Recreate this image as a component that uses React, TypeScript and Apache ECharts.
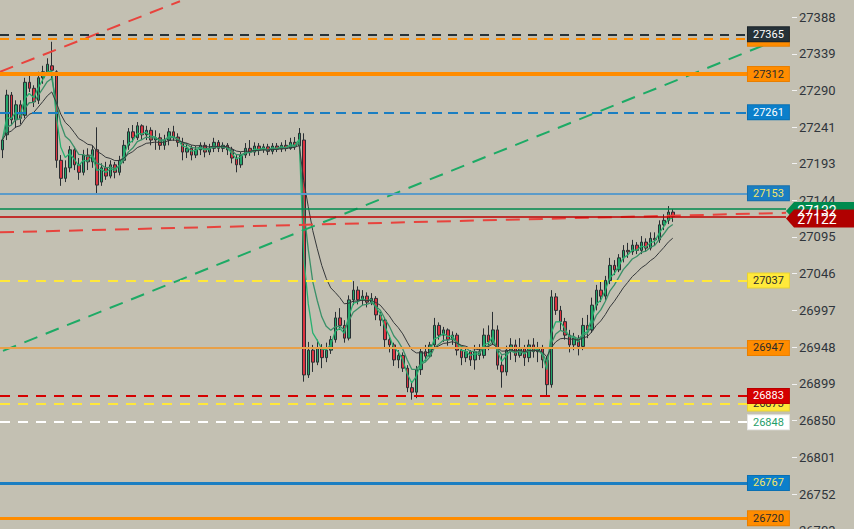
import { useEffect, useRef } from "react";
import * as echarts from "echarts";

// OHLC per bar: [open, close, low, high]
const candles: number[][] = [
  [27211, 27224, 27200, 27227], [27231, 27284, 27224, 27291], [27284, 27251, 27244, 27288], [27251, 27271, 27240, 27277],
  [27271, 27253, 27245, 27277], [27257, 27301, 27253, 27307], [27301, 27293, 27288, 27312], [27293, 27275, 27268, 27297],
  [27277, 27307, 27272, 27315], [27307, 27315, 27299, 27323], [27315, 27325, 27310, 27333], [27323, 27317, 27304, 27355],
  [27315, 27197, 27187, 27317], [27197, 27173, 27163, 27204], [27173, 27187, 27168, 27197], [27187, 27211, 27181, 27216],
  [27211, 27191, 27184, 27215], [27191, 27181, 27171, 27200], [27181, 27204, 27177, 27211], [27204, 27195, 27184, 27213],
  [27195, 27211, 27187, 27217], [27211, 27164, 27153, 27241], [27168, 27187, 27163, 27193], [27187, 27176, 27171, 27195],
  [27176, 27191, 27173, 27197], [27191, 27181, 27173, 27195], [27181, 27197, 27177, 27203], [27197, 27217, 27193, 27224],
  [27217, 27235, 27211, 27240], [27235, 27227, 27221, 27244], [27227, 27243, 27224, 27248], [27243, 27231, 27224, 27245],
  [27231, 27237, 27224, 27243], [27237, 27224, 27217, 27241], [27224, 27227, 27211, 27237], [27227, 27217, 27211, 27233],
  [27217, 27224, 27211, 27231], [27224, 27235, 27217, 27240], [27235, 27228, 27223, 27243], [27228, 27221, 27215, 27233],
  [27221, 27208, 27197, 27227], [27208, 27213, 27200, 27220], [27213, 27204, 27197, 27217], [27204, 27211, 27200, 27216],
  [27211, 27217, 27204, 27221], [27217, 27208, 27201, 27221], [27208, 27213, 27204, 27219], [27213, 27221, 27208, 27227],
  [27221, 27213, 27208, 27224], [27213, 27217, 27208, 27221], [27217, 27211, 27204, 27220], [27211, 27200, 27193, 27215],
  [27200, 27191, 27181, 27204], [27191, 27204, 27187, 27208], [27204, 27213, 27200, 27220], [27213, 27208, 27203, 27224],
  [27208, 27216, 27203, 27221], [27216, 27211, 27204, 27220], [27211, 27215, 27207, 27219], [27215, 27209, 27204, 27219],
  [27209, 27216, 27205, 27220], [27216, 27212, 27208, 27220], [27212, 27217, 27208, 27221], [27217, 27213, 27209, 27224],
  [27213, 27221, 27211, 27227], [27221, 27216, 27211, 27228], [27216, 27233, 27213, 27240], [27224, 26911, 26902, 27233],
  [26911, 26944, 26907, 26955], [26944, 26928, 26915, 26951], [26928, 26947, 26924, 26958], [26947, 26934, 26920, 26952],
  [26934, 26944, 26928, 26954], [26944, 26958, 26939, 26963], [26958, 26987, 26954, 26995], [26987, 26977, 26971, 27000],
  [26977, 26960, 26954, 26984], [26960, 27011, 26957, 27017], [27011, 27024, 27004, 27036], [27024, 27011, 27005, 27029],
  [27011, 27016, 27004, 27024], [27016, 27008, 27001, 27021], [27008, 27013, 27004, 27020], [27013, 26991, 26984, 27016],
  [26991, 26984, 26976, 26995], [26984, 26958, 26947, 26987], [26958, 26951, 26941, 26964], [26951, 26931, 26923, 26954],
  [26931, 26937, 26920, 26944], [26937, 26920, 26915, 26941], [26920, 26894, 26888, 26924], [26894, 26888, 26878, 26902],
  [26888, 26918, 26880, 26923], [26918, 26942, 26911, 26947], [26942, 26936, 26928, 26951], [26936, 26951, 26934, 26955],
  [26951, 26977, 26947, 26987], [26977, 26964, 26958, 26981], [26964, 26971, 26955, 26975], [26971, 26958, 26950, 26973],
  [26958, 26964, 26951, 26969], [26964, 26944, 26937, 26967], [26944, 26934, 26924, 26950], [26934, 26942, 26928, 26947],
  [26942, 26931, 26923, 26944], [26931, 26942, 26918, 26951], [26942, 26937, 26931, 26952], [26937, 26964, 26933, 26973],
  [26964, 26955, 26944, 26977], [26955, 26971, 26951, 26995], [26971, 26924, 26918, 26977], [26924, 26915, 26894, 26937],
  [26915, 26944, 26910, 26950], [26944, 26951, 26931, 26960], [26951, 26937, 26928, 26958], [26937, 26947, 26934, 26960],
  [26947, 26934, 26923, 26951], [26934, 26951, 26928, 26958], [26951, 26942, 26934, 26960], [26942, 26947, 26928, 26955],
  [26947, 26931, 26920, 26951], [26931, 26898, 26884, 26936], [26898, 27015, 26894, 27024], [27015, 26997, 26991, 27020],
  [26997, 26982, 26971, 27003], [26982, 26964, 26958, 26987], [26964, 26951, 26941, 26971], [26951, 26960, 26944, 26967],
  [26960, 26949, 26937, 26964], [26949, 26977, 26944, 26987], [26977, 26971, 26960, 26991], [26971, 27004, 26967, 27014],
  [27004, 27024, 26997, 27031], [27024, 27016, 27008, 27035], [27016, 27037, 27011, 27043], [27037, 27057, 27032, 27067],
  [27057, 27051, 27044, 27064], [27051, 27067, 27048, 27072], [27067, 27077, 27061, 27084], [27077, 27075, 27067, 27087],
  [27075, 27084, 27071, 27091], [27084, 27077, 27072, 27088], [27077, 27088, 27072, 27096], [27088, 27080, 27075, 27093],
  [27080, 27093, 27077, 27101], [27093, 27091, 27083, 27101], [27091, 27111, 27087, 27117], [27111, 27117, 27104, 27125],
  [27117, 27128, 27112, 27136], [27128, 27122, 27115, 27132],
];

const yTicks = [26703, 26752, 26801, 26850, 26899, 26948, 26997, 27046, 27095, 27144, 27193, 27241, 27290, 27339, 27388];

// horizontal price levels (drawing order: later ones on top)
const levels = [27359, 27365, 27312, 27261, 27153, 27037, 26947, 26873, 26883, 26848, 26767, 26720];
// live quotes (ask / bid)
const quotes = [27132, 27122];
// trend lines: [barIndex, price] endpoints
const trendUpperRed = [[-0.5, 27315], [39.5, 27409]];
const trendLowerRed = [[-0.5, 27101], [174.17, 27127]];
const trendGreen = [[0.17, 26943], [169.5, 27351]];

const BG = "#c3c0b2";
const X_MIN = -0.5;
const X_MAX = 175.5;
const LEVEL_END = 165.72;
const QUOTE_END = 174.17;

const levelStyles = [
  { line: "#ff8c00", type: [9, 7], width: 2, bg: "#ff8c00", fg: "#2b2b2b", bd: "#e97f00" },
  { line: "#263238", type: [9, 7], width: 2, bg: "#263238", fg: "#ffffff", bd: "#1b2328" },
  { line: "#ff8c00", type: "solid", width: 4, bg: "#ff8c00", fg: "#2b2b2b", bd: "#e97f00" },
  { line: "#1a7ec2", type: [10, 6], width: 2, bg: "#0b7fcb", fg: "#ffffff", bd: "#0a70b3" },
  { line: "#5b9bc9", type: "solid", width: 2, bg: "#1a7ec2", fg: "#f2e66a", bd: "#176fab" },
  { line: "#ffe83a", type: [10, 8], width: 2, bg: "#ffe93b", fg: "#2b2b2b", bd: "#e8d232" },
  { line: "#e8a048", type: "solid", width: 2, bg: "#ff8c00", fg: "#2b2b2b", bd: "#e97f00" },
  { line: "#ffe83a", type: [10, 8], width: 2, bg: "#ffe93b", fg: "#2b2b2b", bd: "#e8d232" },
  { line: "#d50000", type: [10, 8], width: 2, bg: "#d50000", fg: "#ffffff", bd: "#b80000" },
  { line: "#ffffff", type: [10, 8], width: 2, bg: "#ffffff", fg: "#1f9e6a", bd: "#e6e6e6" },
  { line: "#1a7ec2", type: "solid", width: 3, bg: "#0b7fcb", fg: "#f2e66a", bd: "#0a70b3" },
  { line: "#ff8c00", type: "solid", width: 3, bg: "#ff8c00", fg: "#2b2b2b", bd: "#e97f00" },
];
const quoteStyles = [
  { line: "#008a4e", bg: "#008a4e" },
  { line: "#c00000", bg: "#b00000" },
];

function ema(period: number): number[][] {
  const k = 2 / (period + 1);
  let prev = candles[0][1];
  return candles.map((c, i) => {
    prev = i === 0 ? c[1] : c[1] * k + prev * (1 - k);
    return [i, +prev.toFixed(2)];
  });
}

export default function App() {
  const ref = useRef<HTMLDivElement>(null);
  useEffect(() => {
    if (!ref.current) return;
    const chart = echarts.init(ref.current, undefined, { renderer: "svg" });

    const levelLines = levels.map((v, i) => {
      const s = levelStyles[i];
      return [
        {
          coord: [X_MIN, v],
          lineStyle: { color: s.line, width: s.width, type: s.type as any },
          label: {
            show: true,
            position: "end",
            distance: 0,
            formatter: String(v),
            backgroundColor: s.bg,
            borderColor: s.bd,
            borderWidth: 1,
            color: s.fg,
            padding: [2, 5, 1, 5],
            fontSize: 11,
            fontFamily: "Roboto",
          },
        },
        { coord: [LEVEL_END, v] },
      ];
    });
    const quoteLines = quotes.map((v, i) => [
      { coord: [X_MIN, v], lineStyle: { color: quoteStyles[i].line, width: 1.5, type: "solid" }, label: { show: false } },
      { coord: [QUOTE_END, v] },
    ]);
    const trend = (pts: number[][], color: string, dash: number[]) => [
      { coord: pts[0], lineStyle: { color, width: 2, type: dash }, label: { show: false } },
      { coord: pts[1] },
    ];

    chart.setOption({
      animation: false,
      backgroundColor: BG,
      grid: { left: 0, top: 0, width: 792, height: 533.25 },
      xAxis: {
        type: "value",
        min: X_MIN,
        max: X_MAX,
        show: false,
        axisLine: { show: false, onZero: false },
        axisTick: { show: false },
        axisLabel: { show: false },
        splitLine: { show: false },
      },
      yAxis: {
        type: "value",
        position: "right",
        min: 26700,
        max: 27410.66,
        splitLine: { show: false },
        axisLine: { show: false, onZero: false },
        axisTick: { show: true, customValues: yTicks, length: 5, lineStyle: { color: "#f2f2f2", width: 1 } },
        axisLabel: {
          customValues: yTicks,
          margin: 7,
          color: "#2f353b",
          fontSize: 13,
          fontFamily: "Roboto",
          formatter: (v: number) => String(Math.round(v)),
        },
      },
      series: [
        {
          type: "candlestick",
          data: candles.map((c, i) => [i, c[0], c[1], c[2], c[3]]),
          encode: { x: 0, y: [1, 2, 3, 4] },
          barWidth: 3,
          itemStyle: {
            color: "#22a66a",
            color0: "#dd3340",
            borderColor: "#2a2f33",
            borderColor0: "#2a2f33",
            borderWidth: 1,
          },
          silent: true,
        },
        {
          type: "line",
          data: ema(3),
          showSymbol: false,
          lineStyle: { color: "#28b070", width: 1.3 },
          silent: true,
        },
        {
          type: "line",
          data: ema(6),
          showSymbol: false,
          lineStyle: { color: "#3a9068", width: 1.3 },
          silent: true,
        },
        {
          type: "line",
          data: ema(12),
          showSymbol: false,
          lineStyle: { color: "#35383a", width: 1 },
          silent: true,
        },
        {
          type: "line",
          data: [],
          clip: false,
          silent: true,
          markLine: {
            silent: true,
            symbol: ["none", "none"],
            emphasis: { disabled: true },
            data: [
              trend(trendUpperRed, "#e8433d", [14, 9]),
              trend(trendGreen, "#1daa65", [14, 9]),
              trend(trendLowerRed, "#e8433d", [14, 9]),
              ...levelLines,
              ...quoteLines,
            ],
          },
          markPoint: {
            silent: true,
            z: 10,
            data: quotes.map((v, i) => ({
              coord: [QUOTE_END, v],
              value: v,
              symbol: "path://M0,9L8,0L68,0L68,18L8,18Z",
              symbolSize: [68, 18],
              symbolOffset: [34, 2],
              itemStyle: { color: quoteStyles[i].bg, borderWidth: 0 },
              label: {
                show: true,
                position: "inside",
                formatter: String(v),
                color: "#ffffff",
                fontSize: 14,
                fontFamily: "Roboto",
                offset: [-3, 0],
              },
            })),
          },
        },
      ],
    });
    return () => chart.dispose();
  }, []);

  return (
    <div
      style={{
        position: "fixed",
        left: 0,
        top: 0,
        width: 854,
        height: 529,
        overflow: "hidden",
        background: BG,
      }}
    >
      <div ref={ref} style={{ width: 854, height: 545 }} />
    </div>
  );
}
